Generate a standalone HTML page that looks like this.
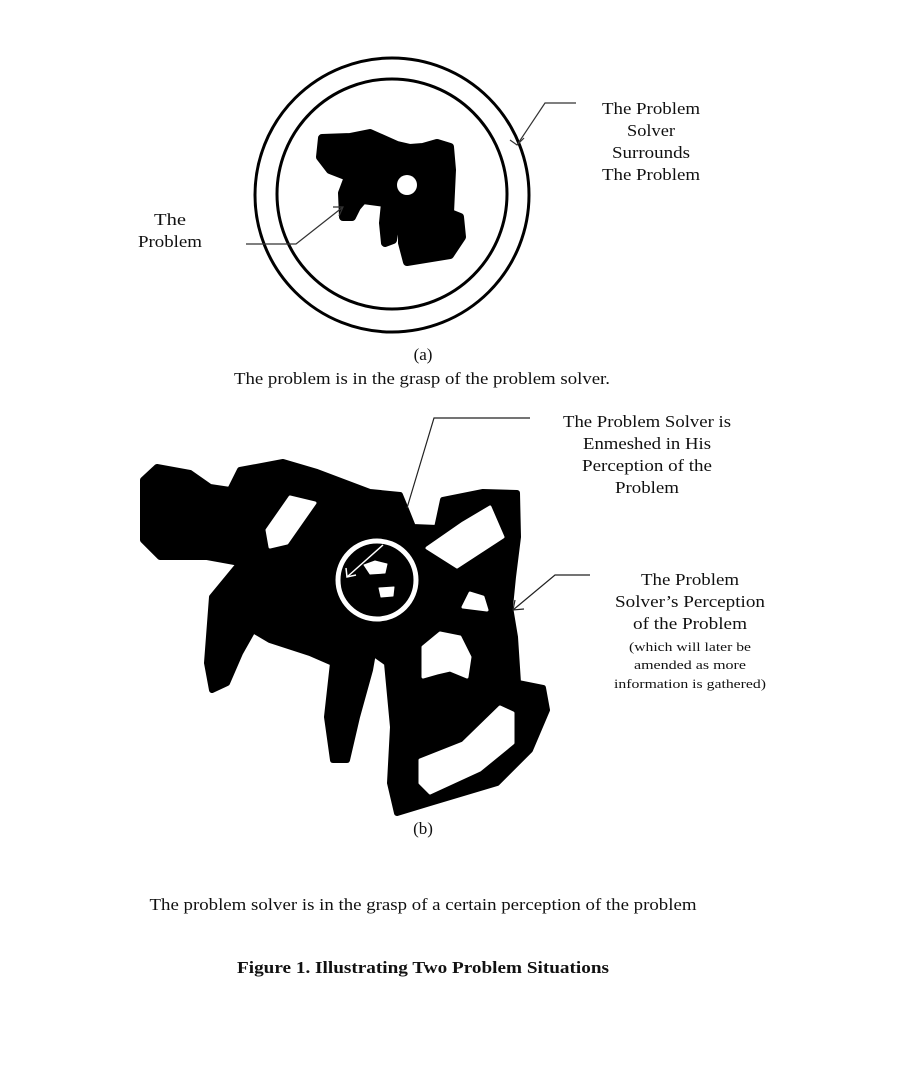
<!DOCTYPE html>
<html><head><meta charset="utf-8"><style>
html,body{margin:0;padding:0;background:#fff;}
svg{display:block}
text{font-family:"Liberation Serif",serif;fill:#111;}
</style></head><body>
<svg width="900" height="1067" viewBox="0 0 900 1067" xmlns="http://www.w3.org/2000/svg">
<!-- (a) -->
<circle cx="392" cy="195" r="137" fill="none" stroke="#000" stroke-width="3"/>
<circle cx="392" cy="194" r="115" fill="none" stroke="#000" stroke-width="3"/>
<path d="M322,138 L350,137 L370,133 L397,145 L410,148 L423,147 L437,143 L450,147 L452,170 L450,213 L460,217 L462,237 L450,255 L407,262 L402,243 L402,207 L397,217 L393,240 L385,243 L383,223 L385,203 L363,200 L357,207 L352,217 L343,217 L342,193 L348,177 L330,170 L320,157 Z" fill="#000" stroke="#000" stroke-width="8" stroke-linejoin="round"/>
<circle cx="407" cy="185" r="10" fill="#fff"/>
<polyline points="576,103 545,103 517,145" fill="none" stroke="#333" stroke-width="1.2"/>
<polyline points="510,140 517,145 524,138" fill="none" stroke="#333" stroke-width="1.2"/>
<polyline points="246,244 296,244 343,207" fill="none" stroke="#333" stroke-width="1.2"/>
<polyline points="333,207 343,207 339,216" fill="none" stroke="#333" stroke-width="1.2"/>
<g font-size="17" text-anchor="middle" lengthAdjust="spacingAndGlyphs">
<text x="651" y="114" textLength="98" lengthAdjust="spacingAndGlyphs">The Problem</text>
<text x="651" y="136" textLength="48" lengthAdjust="spacingAndGlyphs">Solver</text>
<text x="651" y="158" textLength="78" lengthAdjust="spacingAndGlyphs">Surrounds</text>
<text x="651" y="180" textLength="98" lengthAdjust="spacingAndGlyphs">The Problem</text>
<text x="170" y="225" textLength="32" lengthAdjust="spacingAndGlyphs">The</text>
<text x="170" y="247" textLength="64" lengthAdjust="spacingAndGlyphs">Problem</text>
<text x="423" y="360">(a)</text>
<text x="422" y="384" textLength="376" lengthAdjust="spacingAndGlyphs">The problem is in the grasp of the problem solver.</text>
</g>
<!-- (b) -->
<path d="M143,480 L157,467 L190,473 L210,487 L230,490 L240,470 L283,462 L317,472 L370,492 L400,495 L407,512 L413,527 L437,528 L443,500 L483,492 L517,493 L518,537 L513,577 L510,607 L515,637 L518,683 L543,688 L547,710 L530,750 L497,783 L430,803 L397,813 L390,783 L393,727 L387,663 L373,653 L370,670 L357,717 L347,760 L333,760 L327,717 L333,663 L310,653 L270,640 L253,630 L240,653 L227,683 L212,690 L207,663 L212,597 L240,563 L207,557 L160,557 L143,540 Z" fill="#000" stroke="#000" stroke-width="6" stroke-linejoin="round"/>
<g fill="#fff" stroke="#fff" stroke-width="3" stroke-linejoin="round">
<path d="M267,530 L290,497 L315,503 L287,543 L270,547 Z"/>
<path d="M427,548 L463,523 L490,507 L503,537 L457,567 Z"/>
<path d="M463,607 L470,593 L483,597 L487,610 Z"/>
<path d="M423,647 L440,633 L460,637 L470,657 L467,677 L450,670 L437,673 L423,677 Z"/>
<path d="M420,760 L463,743 L500,707 L513,713 L513,743 L480,770 L430,793 L420,783 Z"/>
<path d="M364,565 L375,561 L387,564 L385,573 L370,574 Z" stroke-width="1"/>
<path d="M379,588 L394,587 L393,596 L381,597 Z" stroke-width="1"/>
</g>
<circle cx="377" cy="580" r="39" fill="none" stroke="#fff" stroke-width="5"/>
<polyline points="383,545 347,577" fill="none" stroke="#fff" stroke-width="1.5"/>
<polyline points="346,568 347,577 356,575" fill="none" stroke="#fff" stroke-width="1.5"/>
<polyline points="530,418 434,418 407,508" fill="none" stroke="#222" stroke-width="1.2"/>
<polyline points="590,575 555,575 513,610" fill="none" stroke="#222" stroke-width="1.2"/>
<polyline points="515,600 513,610 524,609" fill="none" stroke="#222" stroke-width="1.2"/>
<g font-size="17" text-anchor="middle">
<text x="647" y="427" textLength="168" lengthAdjust="spacingAndGlyphs">The Problem Solver is</text>
<text x="647" y="449" textLength="128" lengthAdjust="spacingAndGlyphs">Enmeshed in His</text>
<text x="647" y="471" textLength="130" lengthAdjust="spacingAndGlyphs">Perception of the</text>
<text x="647" y="493" textLength="64" lengthAdjust="spacingAndGlyphs">Problem</text>
<text x="690" y="585" textLength="98" lengthAdjust="spacingAndGlyphs">The Problem</text>
<text x="690" y="607" textLength="150" lengthAdjust="spacingAndGlyphs">Solver’s Perception</text>
<text x="690" y="629" textLength="114" lengthAdjust="spacingAndGlyphs">of the Problem</text>
</g>
<g font-size="13" text-anchor="middle">
<text x="690" y="651" textLength="122" lengthAdjust="spacingAndGlyphs">(which will later be</text>
<text x="690" y="669" textLength="112" lengthAdjust="spacingAndGlyphs">amended as more</text>
<text x="690" y="688" textLength="152" lengthAdjust="spacingAndGlyphs">information is gathered)</text>
</g>
<g font-size="17" text-anchor="middle">
<text x="423" y="834">(b)</text>
<text x="423" y="910" textLength="547" lengthAdjust="spacingAndGlyphs">The problem solver is in the grasp of a certain perception of the problem</text>
<text x="423" y="973" font-weight="bold" textLength="372" lengthAdjust="spacingAndGlyphs">Figure 1.  Illustrating Two Problem Situations</text>
</g>
</svg>
</body></html>
